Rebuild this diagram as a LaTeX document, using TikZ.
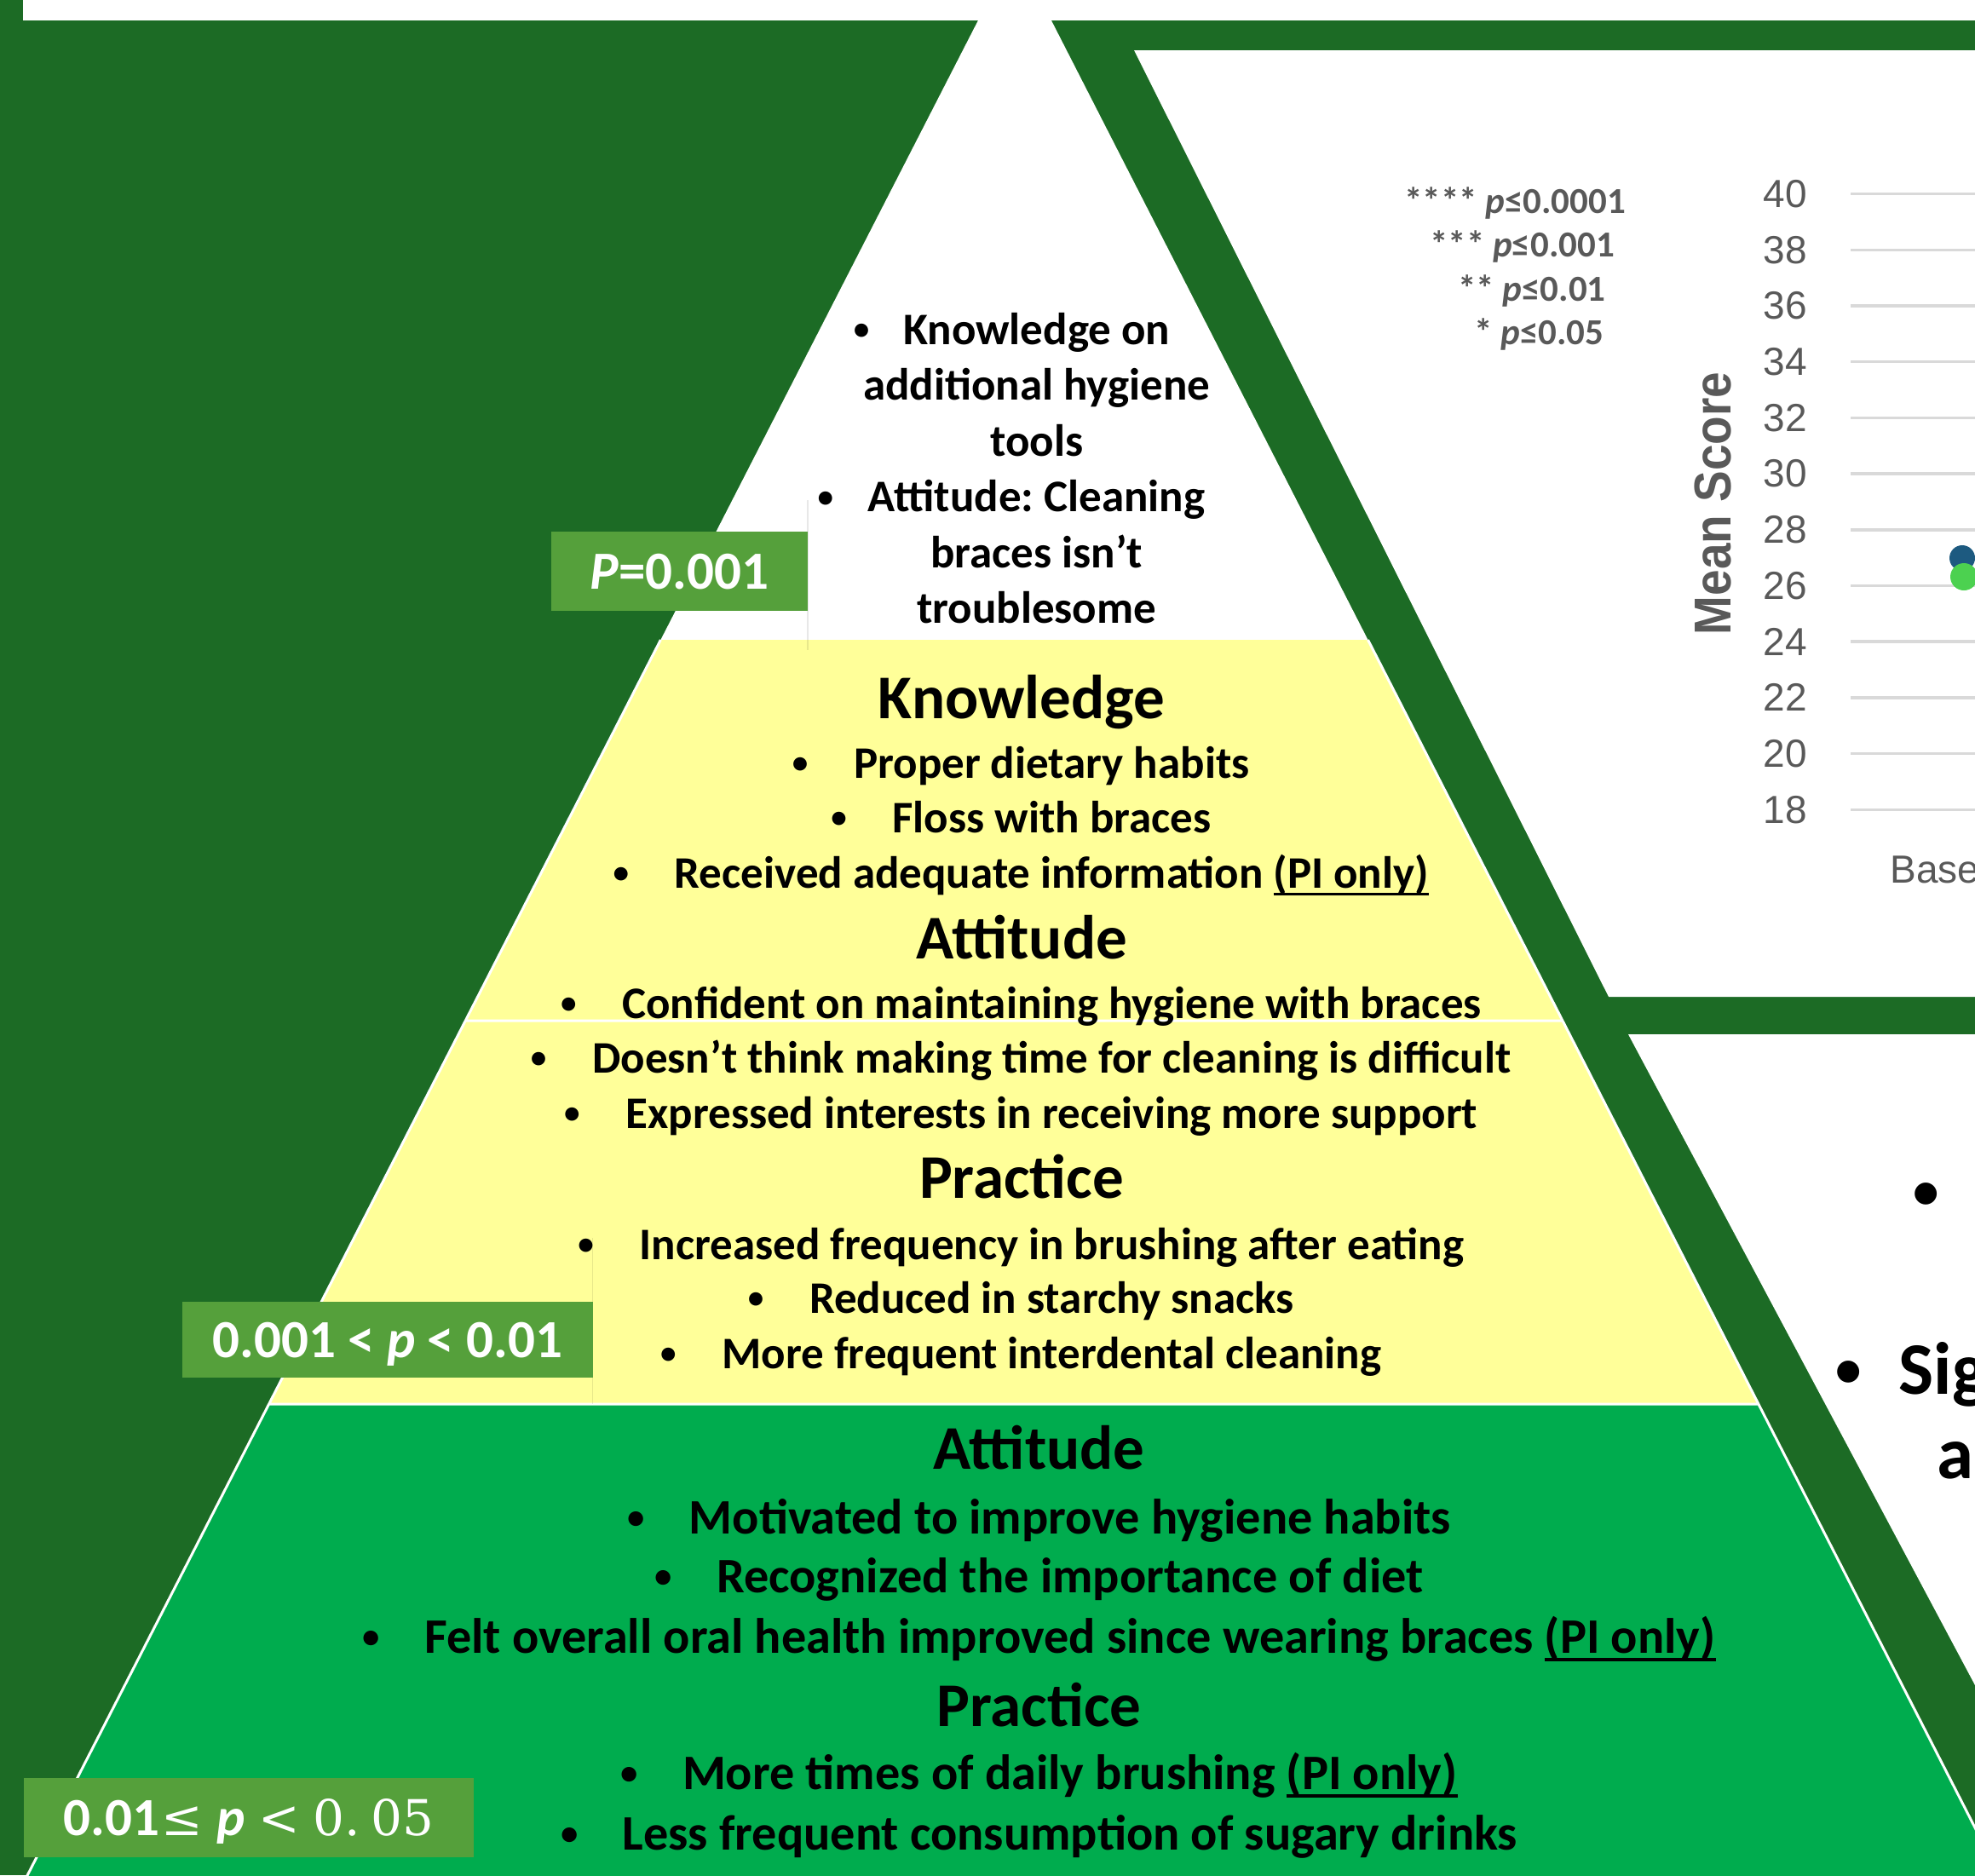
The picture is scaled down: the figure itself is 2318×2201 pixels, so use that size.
\documentclass[tikz,border=0pt]{standalone}
\usepackage{fontspec}
\setmainfont{Carlito}
\newfontfamily\chartfont{Liberation Sans}
\newfontfamily\mathserif{DejaVu Serif}
\frenchspacing

\definecolor{bgdark}{HTML}{1C6B25}
\definecolor{pyryellow}{HTML}{FFFF99}
\definecolor{pyrgreen}{HTML}{00AC4E}
\definecolor{tagbox}{HTML}{55A03B}
\definecolor{chartgray}{HTML}{595959}
\definecolor{gridgray}{HTML}{D9D9D9}
\definecolor{dotblue}{HTML}{1D5A80}
\definecolor{dotgreen}{HTML}{4CD150}

% small bullet, kept at the height of the full-size one
\newcommand\smallbullet{\raisebox{0.095em}{\scalebox{0.7}{\textbullet}}}
% bullet placed a fixed distance left of a centred line
\newcommand\bul[2]{\llap{\makebox[0pt]{\smallbullet}\hspace{#1}}#2}
% underline sitting just below the baseline
\newcommand\ulx[1]{\setbox0=\hbox{#1}\rlap{\rule[-0.17em]{\wd0}{0.06em}}\box0}

\tikzset{
  wtxt/.style={inner sep=0pt, anchor=base, font=\fontsize{53}{64}\selectfont\bfseries},
  ytxt/.style={wtxt},
  gtxt/.style={inner sep=0pt, anchor=base, font=\fontsize{58.3}{70}\selectfont\bfseries},
  head/.style={inner sep=0pt, anchor=base, font=\fontsize{73}{88}\selectfont\bfseries},
  tagbox/.style={fill=tagbox, text=white, inner sep=0pt, text height=41pt, text depth=0pt,
                 font=\fontsize{63}{76}\selectfont\bfseries},
  legend/.style={inner sep=0pt, anchor=base west, text=chartgray, font=\fontsize{43}{50}\selectfont\bfseries},
  tick/.style={inner sep=0pt, text=chartgray, font=\chartfont\fontsize{46}{55}\selectfont},
  axislabel/.style={inner sep=0pt, text=chartgray, font=\chartfont\fontsize{61}{70}\selectfont\bfseries},
  grid/.style={gridgray, line width=3.5pt},
  faint/.style={black, opacity=0.09, line width=1.5pt},
  bigtxt/.style={inner sep=0pt, anchor=base west, font=\fontsize{87}{104}\selectfont\bfseries},
}

\begin{document}
\begin{tikzpicture}[x=1pt,y=-1pt]
\useasboundingbox (0,0) rectangle (2318,2201);
\clip (0,0) rectangle (2318,2201);

% background and frame bands
\fill[bgdark] (0,0) rectangle (2318,2201);
\fill[white] (27,0) rectangle (2318,24);

% chart panel and lower text panel
\fill[white] (1331,59) -- (2318,59) -- (2318,1170) -- (1888,1170) -- cycle;
\fill[white] (1911,1214) -- (2318,1214) -- (2318,1978) -- cycle;

% pyramid
\coordinate (apex) at (1191,-60);
\coordinate (l1) at (775.4,751);  \coordinate (r1) at (1605.5,751);
\coordinate (l2) at (546.3,1198); \coordinate (r2) at (1833.9,1198);
\coordinate (l3) at (315.7,1648); \coordinate (r3) at (2063.9,1648);
\coordinate (l4) at (2,2260);     \coordinate (r4) at (2376.6,2260);
\fill[white] (apex) -- (l1) -- (r1) -- cycle;
\fill[pyryellow] (l1) -- (r1) -- (r3) -- (l3) -- cycle;
\fill[pyrgreen] (l3) -- (r3) -- (r4) -- (l4) -- cycle;
\draw[white, line width=3pt] (l1) -- (l4) (r1) -- (r4) (l2) -- (r2) (l3) -- (r3);

% text box edges
\draw[faint] (948,587) -- (948,763);
\draw[faint] (695.7,1453) -- (695.7,1648);

% significance tags
\node[tagbox, minimum width=301pt, minimum height=93pt] (tagA) at (797.5,670.5) {\textit{P}=0.001};
\node[tagbox, minimum width=481.7pt, minimum height=89pt] (tagB) at (454.85,1572.5) {0.001 < \textit{p} < 0.01};
\node[tagbox, minimum width=528pt, minimum height=93pt] (tagC) at (292,2133.5)
  {0.01{\mathserif\mdseries\fontsize{58}{64}\selectfont\hspace{2pt}≤}\hspace{16pt}\textit{p}\hspace{16pt}{\mathserif\mdseries\fontsize{58}{64}\selectfont <\hspace{16pt}0.\hspace{12pt}05}};

% top tier
\node[wtxt] (w1) at (1216.6,404)   {\bul{49pt}{Knowledge on}};
\node[wtxt] (w2) at (1216.6,469.5) {additional hygiene};
\node[wtxt] (w3) at (1216.6,535)   {tools};
\node[wtxt] (w4) at (1216.6,600.5) {\bul{50pt}{Attitude: Cleaning}};
\node[wtxt] (w5) at (1216.6,666)   {braces isn’t};
\node[wtxt] (w6) at (1216.6,731.5) {troublesome};

% middle tier
\node[head] (yh1) at (1199,843) {Knowledge};
\node[ytxt] (y1) at (1234.4,913)  {\bul{63pt}{Proper dietary habits}};
\node[ytxt] (y2) at (1234.4,977)  {\bul{63pt}{Floss with braces}};
\node[ytxt] (y3) at (1234.4,1042) {\bul{63pt}{Received adequate information \ulx{(PI only)}}};
\node[head] (yh2) at (1199,1125) {Attitude};
\node[ytxt] (y4) at (1234.4,1195) {\bul{63pt}{Confident on maintaining hygiene with braces}};
\node[ytxt] (y5) at (1234.4,1259) {\bul{63pt}{Doesn’t think making time for cleaning is difficult}};
\node[ytxt] (y6) at (1234.4,1324) {\bul{63pt}{Expressed interests in receiving more support}};
\node[head] (yh3) at (1199,1406) {Practice};
\node[ytxt] (y7) at (1234.4,1478) {\bul{63pt}{Increased frequency in brushing after eating}};
\node[ytxt] (y8) at (1234.4,1541) {\bul{63pt}{Reduced in starchy snacks}};
\node[ytxt] (y9) at (1234.4,1606) {\bul{63pt}{More frequent interdental cleaning}};

% bottom tier
\node[head] (gh1) at (1219.6,1724) {Attitude};
\node[gtxt] (g1) at (1255.8,1800) {\bul{62pt}{Motivated to improve hygiene habits}};
\node[gtxt] (g2) at (1255.8,1869) {\bul{62pt}{Recognized the importance of diet}};
\node[gtxt] (g3) at (1255.8,1940) {\bul{62pt}{Felt overall oral health improved since wearing braces \ulx{(PI only)}}};
\node[head] (gh2) at (1219.6,2026) {Practice};
\node[gtxt] (g4) at (1255.8,2100) {\bul{62pt}{More times of daily brushing \ulx{(PI only)}}};
\node[gtxt] (g5) at (1255.8,2171) {\bul{62pt}{Less frequent consumption of sugary drinks}};

% chart legend
\node[legend] (s4) at (1648,250)   {**** \textit{p}≤0.0001};
\node[legend] (s3) at (1678,301.5) {*** \textit{p}≤0.001};
\node[legend] (s2) at (1711,353)   {** \textit{p}≤0.01};
\node[legend] (s1) at (1730,404.5) {* \textit{p}≤0.05};

% chart axis and grid
\foreach \v [count=\k from 0] in {40,38,...,18} {
  \draw[grid] (2172,227.6+65.7*\k) -- (2318,227.6+65.7*\k);
  \node[tick, anchor=east] (tick\v) at (2121,227.6+65.7*\k) {\v};
}
\node[axislabel, rotate=90] (meanscore) at (2010,591) {\scalebox{0.9}[1]{Mean Score}};
\node[tick, anchor=base west] (baseline) at (2218.5,1036) {Base};
\fill[dotblue] (2303,655) circle (15);
\fill[dotgreen] (2305,677) circle (16);

% lower panel text
\node[bigtxt, anchor=base] (lb1) at (2261,1427) {\smallbullet};
\node[bigtxt] (lt2) at (2228.3,1636) {\bul{59pt}{Sig}};
\node[bigtxt] (lt3) at (2273.3,1735.5) {a};
\end{tikzpicture}
\end{document}
